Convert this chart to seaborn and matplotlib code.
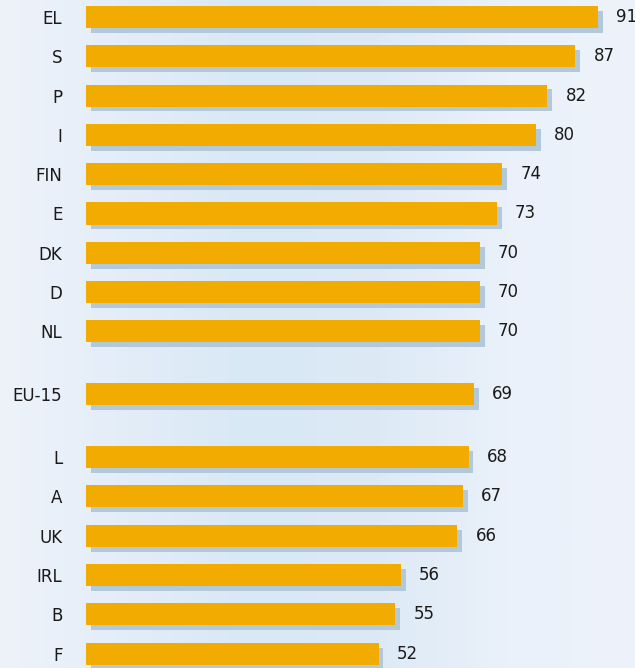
import numpy as np
import pandas as pd
import seaborn as sns
import matplotlib
matplotlib.use("Agg")
import matplotlib.pyplot as plt
import matplotlib.patheffects as pe
from matplotlib.colors import LinearSegmentedColormap

# ---- data ----
categories = ["EL", "S", "P", "I", "FIN", "E", "DK", "D", "NL",
              "EU-15",
              "L", "A", "UK", "IRL", "B", "F"]
values = [91, 87, 82, 80, 74, 73, 70, 70, 70,
          69,
          68, 67, 66, 56, 55, 52]
groups = [0] * 9 + [1] + [2] * 6   # block index (gap between blocks)

GAP = 0.6
positions = [i + g * GAP for i, g in enumerate(groups)]
df = pd.DataFrame({"cat": categories, "val": values, "pos": positions})

sns.set_theme(style="white")
plt.rcParams["font.family"] = ["Liberation Sans Narrow", "DejaVu Sans"]

W, H, DPI = 635, 668, 100
fig = plt.figure(figsize=(W / DPI, H / DPI), dpi=DPI)

# background gradient
bg = fig.add_axes([0, 0, 1, 1], zorder=0)
cmap = LinearSegmentedColormap.from_list(
    "bg", ["#EEF3FA", "#E3EDF8", "#D8E8F5", "#DDEAF6", "#EAF1FA", "#EEF3FB"])
grad = np.linspace(0, 1, 256).reshape(1, -1)
bg.imshow(grad, aspect="auto", cmap=cmap, extent=[0, 1, 0, 1])
bg.set_axis_off()

# main axes
px_per_unit = (598 - 86) / 91
left_px = 86
ax = fig.add_axes([left_px / W, 0, 1 - left_px / W, 1], zorder=1)
ax.set_facecolor("none")

sns.barplot(data=df, x="val", y="pos", orient="h", native_scale=True,
            color="#F2AB00", saturation=1, width=0.56, ax=ax,
            linewidth=0)

for p in ax.patches:
    p.set_path_effects([
        pe.SimplePatchShadow(offset=(3.5, -3.5), shadow_rgbFace="#B2C8DB", alpha=1.0),
        pe.Normal()])

row_px = 39.3
first_center_px = 17
ax.set_ylim(positions[0] + (H - first_center_px) / row_px,
            positions[0] - first_center_px / row_px)
ax.set_xlim(0, (W - left_px) / px_per_unit)

ax.set_yticks(positions)
ax.set_yticklabels(categories)
ax.tick_params(axis="y", length=0, pad=17, labelsize=12, labelcolor="#1A1A1A")
ax.set_xticks([])
ax.set_xlabel("")
ax.set_ylabel("")
for s in ax.spines.values():
    s.set_visible(False)

for v, pos in zip(values, positions):
    ax.annotate(f"{v}", (v, pos), xytext=(13, 0), textcoords="offset points",
                ha="left", va="center", fontsize=12, color="#1A1A1A",
                annotation_clip=False)

fig.savefig("out.png", dpi=DPI)
